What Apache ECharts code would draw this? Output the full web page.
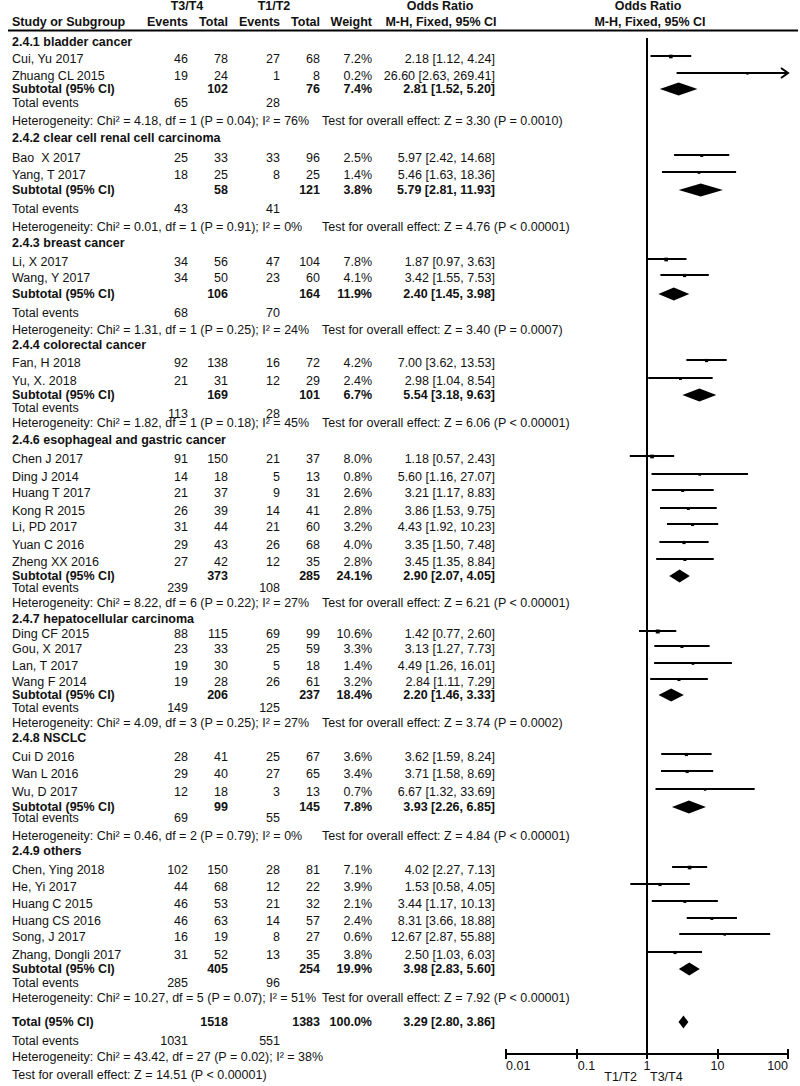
<!DOCTYPE html>
<html><head><meta charset="utf-8">
<script src="https://cdn.jsdelivr.net/npm/echarts@6/dist/echarts.min.js"></script>
<style>html,body{margin:0;padding:0;background:#fff}#chart{width:800px;height:1086px}</style>
</head><body><div id="chart"></div>
<script>
// ---------------- DATA ----------------
const groupNames = ['2.4.1 bladder cancer','2.4.2 clear cell renal cell carcinoma','2.4.3 breast cancer','2.4.4 colorectal cancer','2.4.6 esophageal and gastric cancer','2.4.7 hepatocellular carcinoma','2.4.8 NSCLC','2.4.9 others'];
const studyNames = ['Cui, Yu 2017','Zhuang CL 2015','Bao  X 2017','Yang, T 2017','Li, X 2017','Wang, Y 2017','Fan, H 2018','Yu, X. 2018','Chen J 2017','Ding J 2014','Huang T 2017','Kong R 2015','Li, PD 2017','Yuan C 2016','Zheng XX 2016','Ding CF 2015','Gou, X 2017','Lan, T 2017','Wang F 2014','Cui D 2016','Wan L 2016','Wu, D 2017','Chen, Ying 2018','He, Yi 2017','Huang C 2015','Huang CS 2016','Song, J 2017','Zhang, Dongli 2017'];
const evT34  = [46,19,25,18,34,34,92,21,91,14,21,26,31,29,27,88,23,19,19,28,29,12,102,44,46,46,16,31];
const totT34 = [78,24,33,25,56,50,138,31,150,18,37,39,44,43,42,115,33,30,28,41,40,18,150,68,53,63,19,52];
const evT12  = [27,1,33,8,47,23,16,12,21,5,9,14,21,26,12,69,25,5,26,25,27,3,28,12,21,14,8,13];
const totT12 = [68,8,96,25,104,60,72,29,37,13,31,41,60,68,35,99,59,18,61,67,65,13,81,22,32,57,27,35];
const weights = [7.2,0.2,2.5,1.4,7.8,4.1,4.2,2.4,8.0,0.8,2.6,2.8,3.2,4.0,2.8,10.6,3.3,1.4,3.2,3.6,3.4,0.7,7.1,3.9,2.1,2.4,0.6,3.8];
const orVal = [2.18,26.60,5.97,5.46,1.87,3.42,7.00,2.98,1.18,5.60,3.21,3.86,4.43,3.35,3.45,1.42,3.13,4.49,2.84,3.62,3.71,6.67,4.02,1.53,3.44,8.31,12.67,2.50];
const ciLo  = [1.12,2.63,2.42,1.63,0.97,1.55,3.62,1.04,0.57,1.16,1.17,1.53,1.92,1.50,1.35,0.77,1.27,1.26,1.11,1.59,1.58,1.32,2.27,0.58,1.17,3.66,2.87,1.03];
const ciHi  = [4.24,269.41,14.68,18.36,3.63,7.53,13.53,8.54,2.43,27.07,8.83,9.75,10.23,7.48,8.84,2.60,7.73,16.01,7.29,8.24,8.69,33.69,7.13,4.05,10.13,18.88,55.88,6.03];

const subTotT34 = [102,58,106,169,373,206,99,405];
const subTotT12 = [76,121,164,101,285,237,145,254];
const subWeight = [7.4,3.8,11.9,6.7,24.1,18.4,7.8,19.9];
const subOR = [2.81,5.79,2.40,5.54,2.90,2.20,3.93,3.98];
const subLo = [1.52,2.81,1.45,3.18,2.07,1.46,2.26,2.83];
const subHi = [5.20,11.93,3.98,9.63,4.05,3.33,6.85,5.60];
const subEvT34 = [65,43,68,113,239,149,69,285];
const subEvT12 = [28,41,70,28,108,125,55,96];
const hetChi = [4.18,0.01,1.31,1.82,8.22,4.09,0.46,10.27];
const hetDf = [1,1,1,1,6,3,2,5];
const hetP = ['0.04','0.91','0.25','0.18','0.22','0.25','0.79','0.07'];
const hetI2 = [76,0,24,45,27,27,0,51];
const testZ = ['3.30','4.76','3.40','6.06','6.21','3.74','4.84','7.92'];
const testP = ['= 0.0010','< 0.00001','= 0.0007','< 0.00001','< 0.00001','= 0.0002','< 0.00001','< 0.00001'];

const totalN = [1518, 1383];
const totalWeight = 100.0;
const totalOR = [3.29, 2.80, 3.86];
const totalEvents = [1031, 551];
const totalHet = {chi: 43.42, df: 27, p: '0.02', i2: 38};
const totalTest = {z: '14.51', p: '< 0.00001'};
const tickLabels = ['0.01','0.1','1','10','100'];

// ---------------- LAYOUT ----------------
const groupHeaderY = [42,138,243,345,440,619,738,851];
const studyY = [59,76,158,175,262,278,363,381,459,477,493,511,527,545,562,634,649,666,682,757,774,792,870,887,904,921,937,955];
const subtotalY = [89,190,294,395,576,695,807,969];
const totEvY = [103,209,313,408,588,708,818,983];
const totEvNumY = [103,209,313,414,588,708,818,983];
const hetY = [121,227,330,423,603,723,836,998];
const overallY = {total: 1022, events: 1041, het: 1057, test: 1075};
const COL = {name: 12, ev34: 188, tot34: 228, ev12: 280, tot12: 320, w: 372, or: 495, test: 322};
const FONT = '"Liberation Sans", Arial, Helvetica, sans-serif';
const FS = 12.5;
const INK = '#111';

function txt(s, x, y, align, bold) {
  return {type: 'text', silent: true, style: {
    text: String(s), x: x, y: y, align: align, textAlign: align,
    verticalAlign: 'middle', textVerticalAlign: 'middle',
    fill: INK, fontSize: FS, fontWeight: bold ? 'bold' : 'normal', fontFamily: FONT
  }};
}
const f2 = v => v.toFixed(2);
const orText = (o, l, h) => f2(o) + ' [' + f2(l) + ', ' + f2(h) + ']';

const els = [];
// header
els.push(txt('T3/T4', 187, 6, 'center', true));
els.push(txt('T1/T2', 274, 6, 'center', true));
els.push(txt('Odds Ratio', 440, 6, 'center', true));
els.push(txt('Odds Ratio', 648, 6, 'center', true));
els.push(txt('Study or Subgroup', COL.name, 22, 'left', true));
els.push(txt('Events', COL.ev34, 22, 'right', true));
els.push(txt('Total', COL.tot34, 22, 'right', true));
els.push(txt('Events', COL.ev12, 22, 'right', true));
els.push(txt('Total', COL.tot12, 22, 'right', true));
els.push(txt('Weight', COL.w, 22, 'right', true));
els.push(txt('M-H, Fixed, 95% CI', 441, 22, 'center', true));
els.push(txt('M-H, Fixed, 95% CI', 650, 22, 'center', true));
els.push({type: 'line', silent: true, shape: {x1: 8, y1: 30.5, x2: 798, y2: 30.5}, style: {stroke: '#000', lineWidth: 2}});

// studies
studyNames.forEach((n, i) => {
  const y = studyY[i];
  els.push(txt(n, COL.name, y, 'left', false));
  els.push(txt(evT34[i], COL.ev34, y, 'right', false));
  els.push(txt(totT34[i], COL.tot34, y, 'right', false));
  els.push(txt(evT12[i], COL.ev12, y, 'right', false));
  els.push(txt(totT12[i], COL.tot12, y, 'right', false));
  els.push(txt(weights[i].toFixed(1) + '%', COL.w, y, 'right', false));
  els.push(txt(orText(orVal[i], ciLo[i], ciHi[i]), COL.or, y, 'right', false));
});
// groups
groupNames.forEach((g, i) => {
  els.push(txt(g, COL.name, groupHeaderY[i], 'left', true));
  const ys = subtotalY[i];
  els.push(txt('Subtotal (95% CI)', COL.name, ys, 'left', true));
  els.push(txt(subTotT34[i], COL.tot34, ys, 'right', true));
  els.push(txt(subTotT12[i], COL.tot12, ys, 'right', true));
  els.push(txt(subWeight[i].toFixed(1) + '%', COL.w, ys, 'right', true));
  els.push(txt(orText(subOR[i], subLo[i], subHi[i]), COL.or, ys, 'right', true));
  els.push(txt('Total events', COL.name, totEvY[i], 'left', false));
  els.push(txt(subEvT34[i], COL.ev34, totEvNumY[i], 'right', false));
  els.push(txt(subEvT12[i], COL.ev12, totEvNumY[i], 'right', false));
  els.push(txt('Heterogeneity: Chi\u00b2 = ' + f2(hetChi[i]) + ', df = ' + hetDf[i] + ' (P = ' + hetP[i] + '); I\u00b2 = ' + hetI2[i] + '%', COL.name, hetY[i], 'left', false));
  els.push(txt('Test for overall effect: Z = ' + testZ[i] + ' (P ' + testP[i] + ')', COL.test, hetY[i], 'left', false));
});
// overall
els.push(txt('Total (95% CI)', COL.name, overallY.total, 'left', true));
els.push(txt(totalN[0], COL.tot34, overallY.total, 'right', true));
els.push(txt(totalN[1], COL.tot12, overallY.total, 'right', true));
els.push(txt(totalWeight.toFixed(1) + '%', COL.w, overallY.total, 'right', true));
els.push(txt(orText(totalOR[0], totalOR[1], totalOR[2]), COL.or, overallY.total, 'right', true));
els.push(txt('Total events', COL.name, overallY.events, 'left', false));
els.push(txt(totalEvents[0], COL.ev34, overallY.events, 'right', false));
els.push(txt(totalEvents[1], COL.ev12, overallY.events, 'right', false));
els.push(txt('Heterogeneity: Chi\u00b2 = ' + f2(totalHet.chi) + ', df = ' + totalHet.df + ' (P = ' + totalHet.p + '); I\u00b2 = ' + totalHet.i2 + '%', COL.name, overallY.het, 'left', false));
els.push(txt('Test for overall effect: Z = ' + totalTest.z + ' (P ' + totalTest.p + ')', COL.name, overallY.test, 'left', false));
// favours labels
els.push(txt('T1/T2', 637, 1077, 'right', false));
els.push(txt('T3/T4', 650, 1077, 'left', false));

// ---------------- CHART ----------------
const AXIS_Y = 1054;
const studyData = orVal.map((v, i) => [v, ciLo[i], ciHi[i], studyY[i] - 3, weights[i]]);
const diamondData = subOR.map((v, i) => [v, subLo[i], subHi[i], subtotalY[i]]).concat([[totalOR[0], totalOR[1], totalOR[2], overallY.total]]);

function renderStudy(params, api) {
  const y = api.value(3), hi = api.value(2);
  const a = api.coord([api.value(1), y]);
  const b = api.coord([Math.min(hi, 100), y]);
  const c = api.coord([api.value(0), y]);
  const s = 2 + Math.sqrt(api.value(4)) * 0.6;
  const ch = [
    {type: 'line', shape: {x1: a[0], y1: a[1], x2: b[0], y2: b[1]}, style: {stroke: '#000', lineWidth: 2}},
    {type: 'rect', shape: {x: c[0] - s / 2, y: c[1] - s / 2 + 0.5, width: s, height: s}, style: {fill: '#000'}}
  ];
  if (hi > 100) ch.push({type: 'polyline', shape: {points: [[b[0] - 7, b[1] - 5], [b[0], b[1]], [b[0] - 7, b[1] + 5]]}, style: {stroke: '#000', lineWidth: 2, fill: null}});
  return {type: 'group', children: ch};
}
function renderDiamond(params, api) {
  const y = api.value(3), h = 6.5;
  const c = api.coord([api.value(0), y]);
  const l = api.coord([api.value(1), y]);
  const r = api.coord([api.value(2), y]);
  return {type: 'polygon', shape: {points: [[l[0], c[1]], [c[0], c[1] - h], [r[0], c[1]], [c[0], c[1] + h]]}, style: {fill: '#000'}};
}

const baseX = {type: 'log', logBase: 10, min: 0.01, max: 100, position: 'bottom', splitNumber: 4, splitLine: {show: false}};
const option = {
  animation: false,
  backgroundColor: '#fff',
  graphic: {elements: els},
  grid: {left: 506, top: 0, width: 282, height: AXIS_Y, containLabel: false},
  xAxis: [
    Object.assign({}, baseX, {
      axisLine: {onZero: false, lineStyle: {color: '#000', width: 2}},
      axisTick: {length: 5, lineStyle: {color: '#000', width: 2}},
      axisLabel: {
        margin: 5, color: INK, fontSize: FS, fontFamily: FONT, showMinLabel: true, showMaxLabel: true,
        alignMinLabel: 'left', alignMaxLabel: 'right', hideOverlap: false,
        formatter: function (v) {
          const e = Math.round(Math.log10(v));
          const t = tickLabels[e + 2];
          return e === -1 ? '{p|' + t + '}' : t;
        },
        rich: {p: {padding: [0, 0, 0, 20], fontSize: FS, fontFamily: FONT, color: INK}}
      }
    }),
    Object.assign({}, baseX, {
      axisLine: {show: false, onZero: false},
      axisTick: {inside: true, length: 5, lineStyle: {color: '#000', width: 2}},
      axisLabel: {show: false}
    })
  ],
  yAxis: {type: 'value', min: 0, max: AXIS_Y, inverse: true, show: false},
  series: [
    {type: 'line', silent: true, symbol: 'none', data: [[1, 38], [1, AXIS_Y]], lineStyle: {color: '#000', width: 2}},
    {type: 'custom', silent: true, clip: false, renderItem: renderStudy, encode: {x: 0, y: 3}, data: studyData},
    {type: 'custom', silent: true, clip: false, renderItem: renderDiamond, encode: {x: 0, y: 3}, data: diamondData}
  ]
};
const chart = echarts.init(document.getElementById('chart'), null, {renderer: 'svg', width: 800, height: 1086});
chart.setOption(option);
</script>
</body></html>
